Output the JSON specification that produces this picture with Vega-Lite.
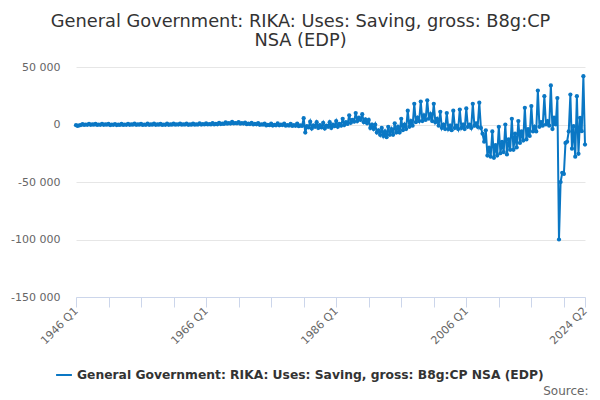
{
  "$schema": "https://vega.github.io/schema/vega-lite/v6.json",
  "description": "General Government gross saving, quarterly, 1946 Q1 to 2024 Q2.",
  "width": 509,
  "height": 230,
  "autosize": {"type": "none"},
  "padding": {"left": 76, "top": 67, "right": 15, "bottom": 103},
  "background": "white",
  "title": {
    "text": ["General Government: RIKA: Uses: Saving, gross: B8g:CP", "NSA (EDP)"],
    "font": "DejaVu Sans",
    "fontSize": 17.8,
    "fontWeight": "normal",
    "color": "#333333",
    "anchor": "middle",
    "dx": -30,
    "offset": 11,
    "lineHeight": 19
  },
  "data": {
    "values": [
      {"date": "1946-01-01", "value": -600}, {"date": "1946-04-01", "value": -1300}, {"date": "1946-07-01", "value": -700}, {"date": "1946-10-01", "value": -500},
      {"date": "1947-01-01", "value": 400}, {"date": "1947-04-01", "value": -400}, {"date": "1947-07-01", "value": 0}, {"date": "1947-10-01", "value": -300},
      {"date": "1948-01-01", "value": 600}, {"date": "1948-04-01", "value": -300}, {"date": "1948-07-01", "value": 100}, {"date": "1948-10-01", "value": -200},
      {"date": "1949-01-01", "value": 500}, {"date": "1949-04-01", "value": -400}, {"date": "1949-07-01", "value": 0}, {"date": "1949-10-01", "value": -300},
      {"date": "1950-01-01", "value": 600}, {"date": "1950-04-01", "value": -300}, {"date": "1950-07-01", "value": 100}, {"date": "1950-10-01", "value": -200},
      {"date": "1951-01-01", "value": 500}, {"date": "1951-04-01", "value": -500}, {"date": "1951-07-01", "value": -100}, {"date": "1951-10-01", "value": -300},
      {"date": "1952-01-01", "value": 400}, {"date": "1952-04-01", "value": -500}, {"date": "1952-07-01", "value": -100}, {"date": "1952-10-01", "value": -400},
      {"date": "1953-01-01", "value": 500}, {"date": "1953-04-01", "value": -400}, {"date": "1953-07-01", "value": 0}, {"date": "1953-10-01", "value": -300},
      {"date": "1954-01-01", "value": 600}, {"date": "1954-04-01", "value": -300}, {"date": "1954-07-01", "value": 100}, {"date": "1954-10-01", "value": -200},
      {"date": "1955-01-01", "value": 700}, {"date": "1955-04-01", "value": -300}, {"date": "1955-07-01", "value": 100}, {"date": "1955-10-01", "value": -200},
      {"date": "1956-01-01", "value": 600}, {"date": "1956-04-01", "value": -400}, {"date": "1956-07-01", "value": 0}, {"date": "1956-10-01", "value": -300},
      {"date": "1957-01-01", "value": 700}, {"date": "1957-04-01", "value": -300}, {"date": "1957-07-01", "value": 100}, {"date": "1957-10-01", "value": -200},
      {"date": "1958-01-01", "value": 700}, {"date": "1958-04-01", "value": -300}, {"date": "1958-07-01", "value": 100}, {"date": "1958-10-01", "value": -200},
      {"date": "1959-01-01", "value": 600}, {"date": "1959-04-01", "value": -400}, {"date": "1959-07-01", "value": 0}, {"date": "1959-10-01", "value": -300},
      {"date": "1960-01-01", "value": 700}, {"date": "1960-04-01", "value": -300}, {"date": "1960-07-01", "value": 100}, {"date": "1960-10-01", "value": -200},
      {"date": "1961-01-01", "value": 800}, {"date": "1961-04-01", "value": -200}, {"date": "1961-07-01", "value": 200}, {"date": "1961-10-01", "value": -100},
      {"date": "1962-01-01", "value": 800}, {"date": "1962-04-01", "value": -200}, {"date": "1962-07-01", "value": 200}, {"date": "1962-10-01", "value": -100},
      {"date": "1963-01-01", "value": 700}, {"date": "1963-04-01", "value": -300}, {"date": "1963-07-01", "value": 100}, {"date": "1963-10-01", "value": -200},
      {"date": "1964-01-01", "value": 800}, {"date": "1964-04-01", "value": -200}, {"date": "1964-07-01", "value": 200}, {"date": "1964-10-01", "value": -100},
      {"date": "1965-01-01", "value": 900}, {"date": "1965-04-01", "value": -100}, {"date": "1965-07-01", "value": 300}, {"date": "1965-10-01", "value": 0},
      {"date": "1966-01-01", "value": 1000}, {"date": "1966-04-01", "value": 0}, {"date": "1966-07-01", "value": 400}, {"date": "1966-10-01", "value": 100},
      {"date": "1967-01-01", "value": 1100}, {"date": "1967-04-01", "value": 100}, {"date": "1967-07-01", "value": 500}, {"date": "1967-10-01", "value": 200},
      {"date": "1968-01-01", "value": 1500}, {"date": "1968-04-01", "value": 400}, {"date": "1968-07-01", "value": 800}, {"date": "1968-10-01", "value": 500},
      {"date": "1969-01-01", "value": 1900}, {"date": "1969-04-01", "value": 700}, {"date": "1969-07-01", "value": 1100}, {"date": "1969-10-01", "value": 800},
      {"date": "1970-01-01", "value": 2200}, {"date": "1970-04-01", "value": 900}, {"date": "1970-07-01", "value": 1300}, {"date": "1970-10-01", "value": 1000},
      {"date": "1971-01-01", "value": 2000}, {"date": "1971-04-01", "value": 700}, {"date": "1971-07-01", "value": 1100}, {"date": "1971-10-01", "value": 800},
      {"date": "1972-01-01", "value": 1600}, {"date": "1972-04-01", "value": 300}, {"date": "1972-07-01", "value": 700}, {"date": "1972-10-01", "value": 400},
      {"date": "1973-01-01", "value": 1400}, {"date": "1973-04-01", "value": 0}, {"date": "1973-07-01", "value": 500}, {"date": "1973-10-01", "value": 200},
      {"date": "1974-01-01", "value": 1200}, {"date": "1974-04-01", "value": -300}, {"date": "1974-07-01", "value": 200}, {"date": "1974-10-01", "value": -200},
      {"date": "1975-01-01", "value": 800}, {"date": "1975-04-01", "value": -800}, {"date": "1975-07-01", "value": -300}, {"date": "1975-10-01", "value": -600},
      {"date": "1976-01-01", "value": 700}, {"date": "1976-04-01", "value": -900}, {"date": "1976-07-01", "value": -400}, {"date": "1976-10-01", "value": -700},
      {"date": "1977-01-01", "value": 900}, {"date": "1977-04-01", "value": -700}, {"date": "1977-07-01", "value": -200}, {"date": "1977-10-01", "value": -500},
      {"date": "1978-01-01", "value": 700}, {"date": "1978-04-01", "value": -1000}, {"date": "1978-07-01", "value": -500}, {"date": "1978-10-01", "value": -900},
      {"date": "1979-01-01", "value": 600}, {"date": "1979-04-01", "value": -1200}, {"date": "1979-07-01", "value": -600}, {"date": "1979-10-01", "value": -1100},
      {"date": "1980-01-01", "value": 800}, {"date": "1980-04-01", "value": -1500}, {"date": "1980-07-01", "value": -800}, {"date": "1980-10-01", "value": -1300},
      {"date": "1981-01-01", "value": 5500}, {"date": "1981-04-01", "value": -7000}, {"date": "1981-07-01", "value": -1500}, {"date": "1981-10-01", "value": -2500},
      {"date": "1982-01-01", "value": 2500}, {"date": "1982-04-01", "value": -3500}, {"date": "1982-07-01", "value": -800}, {"date": "1982-10-01", "value": -2000},
      {"date": "1983-01-01", "value": 2000}, {"date": "1983-04-01", "value": -3000}, {"date": "1983-07-01", "value": -500}, {"date": "1983-10-01", "value": -2500},
      {"date": "1984-01-01", "value": 1500}, {"date": "1984-04-01", "value": -3500}, {"date": "1984-07-01", "value": -1000}, {"date": "1984-10-01", "value": -2000},
      {"date": "1985-01-01", "value": 2000}, {"date": "1985-04-01", "value": -3000}, {"date": "1985-07-01", "value": 0}, {"date": "1985-10-01", "value": -1500},
      {"date": "1986-01-01", "value": 3000}, {"date": "1986-04-01", "value": -2000}, {"date": "1986-07-01", "value": 500}, {"date": "1986-10-01", "value": -1000},
      {"date": "1987-01-01", "value": 5000}, {"date": "1987-04-01", "value": -500}, {"date": "1987-07-01", "value": 2000}, {"date": "1987-10-01", "value": 500},
      {"date": "1988-01-01", "value": 8000}, {"date": "1988-04-01", "value": 1500}, {"date": "1988-07-01", "value": 4000}, {"date": "1988-10-01", "value": 2500},
      {"date": "1989-01-01", "value": 10000}, {"date": "1989-04-01", "value": 3000}, {"date": "1989-07-01", "value": 6000}, {"date": "1989-10-01", "value": 4000},
      {"date": "1990-01-01", "value": 9000}, {"date": "1990-04-01", "value": 2000}, {"date": "1990-07-01", "value": 4500}, {"date": "1990-10-01", "value": 1000},
      {"date": "1991-01-01", "value": 4000}, {"date": "1991-04-01", "value": -3000}, {"date": "1991-07-01", "value": 0}, {"date": "1991-10-01", "value": -4000},
      {"date": "1992-01-01", "value": 0}, {"date": "1992-04-01", "value": -7000}, {"date": "1992-07-01", "value": -5000}, {"date": "1992-10-01", "value": -9000},
      {"date": "1993-01-01", "value": -3000}, {"date": "1993-04-01", "value": -10000}, {"date": "1993-07-01", "value": -6000}, {"date": "1993-10-01", "value": -11000},
      {"date": "1994-01-01", "value": -2000}, {"date": "1994-04-01", "value": -9000}, {"date": "1994-07-01", "value": -4000}, {"date": "1994-10-01", "value": -9000},
      {"date": "1995-01-01", "value": 1000}, {"date": "1995-04-01", "value": -7000}, {"date": "1995-07-01", "value": -2000}, {"date": "1995-10-01", "value": -7000},
      {"date": "1996-01-01", "value": 5000}, {"date": "1996-04-01", "value": -5000}, {"date": "1996-07-01", "value": 0}, {"date": "1996-10-01", "value": -4000},
      {"date": "1997-01-01", "value": 12000}, {"date": "1997-04-01", "value": -2000}, {"date": "1997-07-01", "value": 3000}, {"date": "1997-10-01", "value": -1000},
      {"date": "1998-01-01", "value": 18000}, {"date": "1998-04-01", "value": 2000}, {"date": "1998-07-01", "value": 6000}, {"date": "1998-10-01", "value": 3000},
      {"date": "1999-01-01", "value": 20000}, {"date": "1999-04-01", "value": 3000}, {"date": "1999-07-01", "value": 8000}, {"date": "1999-10-01", "value": 4000},
      {"date": "2000-01-01", "value": 21000}, {"date": "2000-04-01", "value": 5000}, {"date": "2000-07-01", "value": 9000}, {"date": "2000-10-01", "value": 3000},
      {"date": "2001-01-01", "value": 18000}, {"date": "2001-04-01", "value": 2000}, {"date": "2001-07-01", "value": 5000}, {"date": "2001-10-01", "value": -1000},
      {"date": "2002-01-01", "value": 11000}, {"date": "2002-04-01", "value": -3000}, {"date": "2002-07-01", "value": 0}, {"date": "2002-10-01", "value": -4000},
      {"date": "2003-01-01", "value": 10000}, {"date": "2003-04-01", "value": -4000}, {"date": "2003-07-01", "value": -1000}, {"date": "2003-10-01", "value": -5000},
      {"date": "2004-01-01", "value": 12000}, {"date": "2004-04-01", "value": -3000}, {"date": "2004-07-01", "value": -1000}, {"date": "2004-10-01", "value": -4000},
      {"date": "2005-01-01", "value": 13000}, {"date": "2005-04-01", "value": -3000}, {"date": "2005-07-01", "value": 0}, {"date": "2005-10-01", "value": -4000},
      {"date": "2006-01-01", "value": 14000}, {"date": "2006-04-01", "value": -2000}, {"date": "2006-07-01", "value": 0}, {"date": "2006-10-01", "value": -3000},
      {"date": "2007-01-01", "value": 18000}, {"date": "2007-04-01", "value": -1000}, {"date": "2007-07-01", "value": 1000}, {"date": "2007-10-01", "value": -2000},
      {"date": "2008-01-01", "value": 19000}, {"date": "2008-04-01", "value": -3000}, {"date": "2008-07-01", "value": -8000}, {"date": "2008-10-01", "value": -15000},
      {"date": "2009-01-01", "value": -5000}, {"date": "2009-04-01", "value": -27000}, {"date": "2009-07-01", "value": -20000}, {"date": "2009-10-01", "value": -28000},
      {"date": "2010-01-01", "value": -6000}, {"date": "2010-04-01", "value": -29000}, {"date": "2010-07-01", "value": -18000}, {"date": "2010-10-01", "value": -27000},
      {"date": "2011-01-01", "value": -2000}, {"date": "2011-04-01", "value": -25000}, {"date": "2011-07-01", "value": -15000}, {"date": "2011-10-01", "value": -24000},
      {"date": "2012-01-01", "value": 0}, {"date": "2012-04-01", "value": -26000}, {"date": "2012-07-01", "value": -13000}, {"date": "2012-10-01", "value": -22000},
      {"date": "2013-01-01", "value": 5000}, {"date": "2013-04-01", "value": -22000}, {"date": "2013-07-01", "value": -8000}, {"date": "2013-10-01", "value": -20000},
      {"date": "2014-01-01", "value": 3000}, {"date": "2014-04-01", "value": -16000}, {"date": "2014-07-01", "value": -6000}, {"date": "2014-10-01", "value": -14000},
      {"date": "2015-01-01", "value": 14500}, {"date": "2015-04-01", "value": -13000}, {"date": "2015-07-01", "value": -4000}, {"date": "2015-10-01", "value": -10000},
      {"date": "2016-01-01", "value": 16000}, {"date": "2016-04-01", "value": -6000}, {"date": "2016-07-01", "value": -2000}, {"date": "2016-10-01", "value": -6000},
      {"date": "2017-01-01", "value": 29500}, {"date": "2017-04-01", "value": -2000}, {"date": "2017-07-01", "value": 2000}, {"date": "2017-10-01", "value": -1000},
      {"date": "2018-01-01", "value": 24600}, {"date": "2018-04-01", "value": 0}, {"date": "2018-07-01", "value": 3000}, {"date": "2018-10-01", "value": -1000},
      {"date": "2019-01-01", "value": 34000}, {"date": "2019-04-01", "value": -4000}, {"date": "2019-07-01", "value": 6000}, {"date": "2019-10-01", "value": 0},
      {"date": "2020-01-01", "value": 23000}, {"date": "2020-04-01", "value": -100000}, {"date": "2020-07-01", "value": -50000}, {"date": "2020-10-01", "value": -42000},
      {"date": "2021-01-01", "value": -43000}, {"date": "2021-04-01", "value": -16000}, {"date": "2021-07-01", "value": -15000}, {"date": "2021-10-01", "value": -6000},
      {"date": "2022-01-01", "value": 26000}, {"date": "2022-04-01", "value": -21000}, {"date": "2022-07-01", "value": -1500}, {"date": "2022-10-01", "value": -28000},
      {"date": "2023-01-01", "value": 24600}, {"date": "2023-04-01", "value": -25500}, {"date": "2023-07-01", "value": 5800}, {"date": "2023-10-01", "value": -5800},
      {"date": "2024-01-01", "value": 42000}, {"date": "2024-04-01", "value": -17400}
    ]
  },
  "mark": {
    "type": "line",
    "strokeWidth": 2,
    "point": {"filled": true, "size": 18}
  },
  "encoding": {
    "x": {
      "field": "date",
      "type": "temporal",
      "scale": {
        "type": "utc",
        "domain": [
          {"year": 1946, "month": 1, "date": 1, "utc": true},
          {"year": 2024, "month": 4, "date": 1, "utc": true}
        ]
      },
      "axis": {
        "values": [
          {"year": 1946, "month": 1, "date": 1, "utc": true},
          {"year": 1951, "month": 1, "date": 1, "utc": true},
          {"year": 1956, "month": 1, "date": 1, "utc": true},
          {"year": 1961, "month": 1, "date": 1, "utc": true},
          {"year": 1966, "month": 1, "date": 1, "utc": true},
          {"year": 1971, "month": 1, "date": 1, "utc": true},
          {"year": 1976, "month": 1, "date": 1, "utc": true},
          {"year": 1981, "month": 1, "date": 1, "utc": true},
          {"year": 1986, "month": 1, "date": 1, "utc": true},
          {"year": 1991, "month": 1, "date": 1, "utc": true},
          {"year": 1996, "month": 1, "date": 1, "utc": true},
          {"year": 2001, "month": 1, "date": 1, "utc": true},
          {"year": 2006, "month": 1, "date": 1, "utc": true},
          {"year": 2011, "month": 1, "date": 1, "utc": true},
          {"year": 2016, "month": 1, "date": 1, "utc": true},
          {"year": 2021, "month": 1, "date": 1, "utc": true},
          {"year": 2024, "month": 4, "date": 1, "utc": true}
        ],
        "labelExpr": "utcyear(datum.value) == 2024 ? '2024 Q2' : (utcyear(datum.value) % 20 == 6 ? utcyear(datum.value) + ' Q1' : '')",
        "labelAngle": -45,
        "labelAlign": "right",
        "labelBaseline": "middle",
        "labelOverlap": false,
        "labelBound": false,
        "labelFont": "DejaVu Sans",
        "labelFontSize": 11,
        "labelColor": "#666666",
        "labelPadding": 2,
        "grid": false,
        "tickSize": 10,
        "tickColor": "#ccd6eb",
        "domainColor": "#ccd6eb",
        "title": "Source:",
        "titleFont": "DejaVu Sans",
        "titleFontSize": 12,
        "titleFontWeight": "normal",
        "titleColor": "#666666",
        "titleAnchor": "end",
        "titleAlign": "right",
        "titleBaseline": "alphabetic",
        "titleX": 512,
        "titleY": 97
      }
    },
    "y": {
      "field": "value",
      "type": "quantitative",
      "scale": {"domain": [-150000, 50000], "nice": false, "zero": false},
      "axis": {
        "values": [-150000, -100000, -50000, 0, 50000],
        "labelExpr": "(datum.value < 0 ? '-' : '') + replace(format(abs(datum.value), ','), ',', ' ')",
        "labelFont": "DejaVu Sans",
        "labelFontSize": 11,
        "labelColor": "#666666",
        "labelPadding": 16,
        "domain": false,
        "ticks": false,
        "gridColor": "#e6e6e6",
        "title": null
      }
    },
    "color": {
      "datum": "General Government: RIKA: Uses: Saving, gross: B8g:CP NSA (EDP)",
      "type": "nominal",
      "scale": {"range": ["#0a77c4"]},
      "legend": {
        "title": null,
        "orient": "none",
        "legendX": -21,
        "legendY": 299,
        "symbolType": "stroke",
        "symbolSize": 250,
        "symbolStrokeWidth": 2,
        "labelFont": "DejaVu Sans",
        "labelFontSize": 12.3,
        "labelFontWeight": "bold",
        "labelColor": "#333333",
        "labelLimit": 600
      }
    }
  },
  "config": {
    "view": {"stroke": null},
    "font": "DejaVu Sans"
  }
}
